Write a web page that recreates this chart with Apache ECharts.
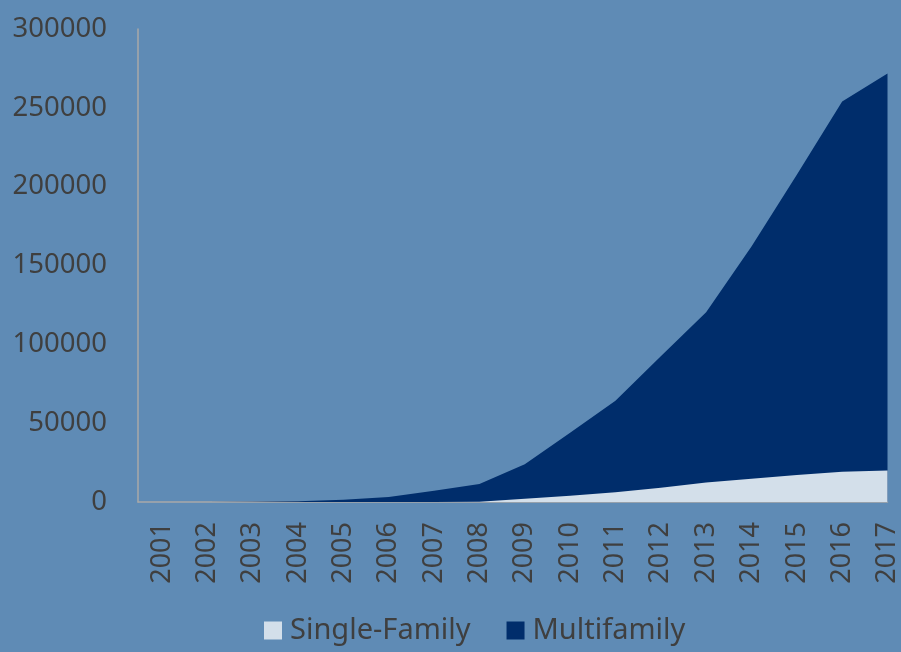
<!DOCTYPE html>
<html>
<head>
<meta charset="utf-8">
<script src="https://cdn.jsdelivr.net/npm/echarts@6/dist/echarts.min.js"></script>
<style>
html,body{margin:0;padding:0;background:#5f8bb5;}
#chart{width:901px;height:652px;}
</style>
</head>
<body>
<div id="chart"></div>
<script>
var years = [2001,2002,2003,2004,2005,2006,2007,2008,2009,2010,2011,2012,2013,2014,2015,2016,2017];
var singleFamily = [0,0,0,0,0,0,0,200,2000,4000,6200,9000,12300,14800,17200,19200,19900];
var multifamily = [0,0,100,500,1500,3200,7200,11200,21900,40000,58000,83500,108000,147200,190300,234800,251900];
var yTicks = [0,50000,100000,150000,200000,250000,300000];

var textColor = '#3f3f3f';
var font = '"Noto Sans"';
function plain(v){ return String(v); }

var chart = echarts.init(document.getElementById('chart'));
chart.setOption({
  backgroundColor: '#5f8bb5',
  animation: false,
  grid: {left: 138, right: 12, top: 29, bottom: 150},
  legend: {
    left: 259, top: 611,
    icon: 'rect', itemWidth: 18, itemHeight: 18, itemGap: 36,
    textStyle: {color: textColor, fontSize: 29, fontFamily: font, padding: [0, 0, 0, 3]},
    data: ['Single-Family', 'Multifamily']
  },
  xAxis: {
    type: 'value',
    min: 2000.47, max: 2017,
    axisLine: {show: true, lineStyle: {color: '#a9a9a9', width: 1.5}},
    axisTick: {show: false},
    splitLine: {show: false},
    axisLabel: {
      customValues: years,
      formatter: plain,
      rotate: 90, margin: 20,
      color: textColor, fontSize: 27, fontFamily: font
    }
  },
  yAxis: {
    type: 'value', min: yTicks[0], max: yTicks[yTicks.length-1], interval: 50000,
    axisLine: {show: true, lineStyle: {color: '#a9a9a9', width: 1.5}},
    axisTick: {show: false},
    splitLine: {show: false},
    axisLabel: {formatter: plain, color: textColor, fontSize: 27.5, fontFamily: font, margin: 31}
  },
  series: [
    {
      name: 'Multifamily', type: 'line',
      data: years.map(function(y,i){return [y, singleFamily[i] + multifamily[i]];}),
      symbol: 'none', lineStyle: {width: 0},
      itemStyle: {color: '#002d6b'},
      areaStyle: {color: '#002d6b', opacity: 1}
    },
    {
      name: 'Single-Family', type: 'line',
      data: years.map(function(y,i){return [y, singleFamily[i]];}),
      symbol: 'none', lineStyle: {width: 0},
      itemStyle: {color: '#d3dfea'},
      areaStyle: {color: '#d3dfea', opacity: 1}
    }
  ]
});
</script>
</body>
</html>
